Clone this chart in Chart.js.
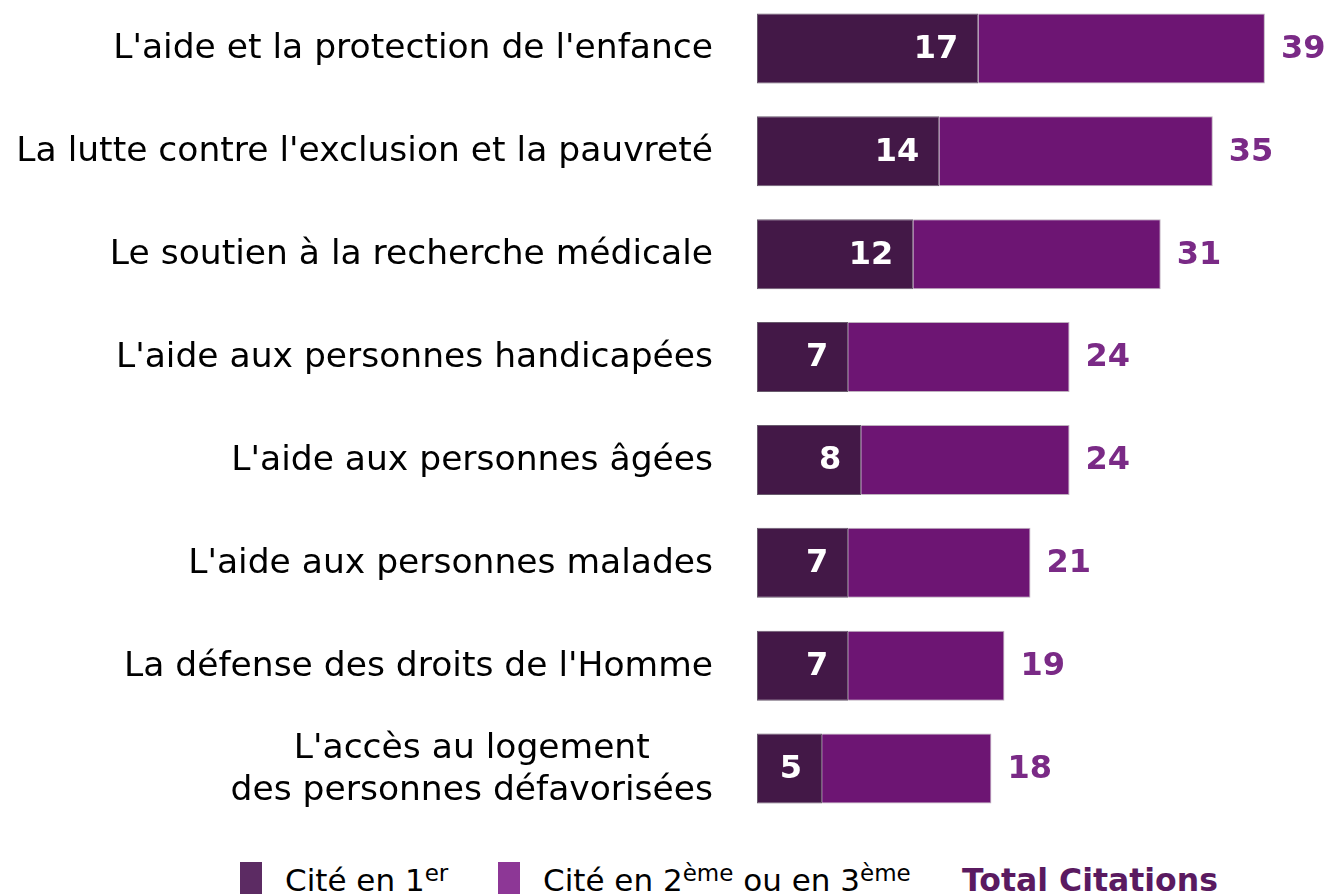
<!DOCTYPE html>
<html>
<head>
<meta charset="utf-8">
<script src="https://cdn.jsdelivr.net/npm/chart.js@4.4.1/dist/chart.umd.min.js"></script>
<style>
  html, body { margin:0; padding:0; background:#fff; width:1330px; height:894px; overflow:hidden; position:relative; }
  #wrap { position:absolute; left:0; top:-3px; width:1330px; height:823px; }
  .leg { position:absolute; font-family:"DejaVu Sans",Verdana,sans-serif; font-size:31px; color:#000; white-space:nowrap; line-height:1; }
  .leg sup { font-size:23px; vertical-align:0; position:relative; top:-10px; }
  .sq { position:absolute; width:22px; height:32px; }
</style>
</head>
<body>
<div id="wrap"><canvas id="c"></canvas></div>
<div class="sq" style="left:240px; top:862px; background:#5c2b63;"></div>
<div class="leg" style="left:285px; top:865px;">Cité en 1<sup>er</sup></div>
<div class="sq" style="left:498px; top:862px; background:#8d3796;"></div>
<div class="leg" style="left:543px; top:865px;">Cité en 2<sup>ème</sup> ou en 3<sup>ème</sup></div>
<div class="leg" style="left:962px; top:865px; font-size:31.5px; font-weight:bold; color:#5a1a60;">Total Citations</div>
<script>
const categories = [
  "L'aide et la protection de l'enfance",
  "La lutte contre l'exclusion et la pauvreté",
  "Le soutien à la recherche médicale",
  "L'aide aux personnes handicapées",
  "L'aide aux personnes âgées",
  "L'aide aux personnes malades",
  "La défense des droits de l'Homme",
  ["L'accès au logement", "des personnes défavorisées"]
];
const citeFirst = [17, 14, 12, 7, 8, 7, 7, 5];
const citeSecondThird = [22, 21, 19, 17, 16, 14, 12, 13];
const totalCitations = [39, 35, 31, 24, 24, 21, 19, 18];

const labelsPlugin = {
  id: 'valueLabels',
  afterDatasetsDraw(chart) {
    const ctx = chart.ctx;
    ctx.save();
    const ys = chart.scales.y;
    ctx.font = '34.5px "DejaVu Sans", Verdana, sans-serif';
    ctx.fillStyle = '#000';
    ctx.textBaseline = 'middle';
    const xr = chart.chartArea.left - 44;
    chart.data.labels.forEach((lab, i) => {
      const py = ys.getPixelForValue(i) + 1;
      if (Array.isArray(lab)) {
        const maxw = Math.max(...lab.map(t => ctx.measureText(t).width));
        const cx = xr - maxw / 2;
        ctx.textAlign = 'center';
        lab.forEach((t, k) => ctx.fillText(t, cx, py + (k - (lab.length - 1) / 2) * 42));
      } else {
        ctx.textAlign = 'right';
        ctx.fillText(lab, xr, py);
      }
    });
    ctx.font = 'bold 32px "DejaVu Sans", Verdana, sans-serif';
    const m0 = chart.getDatasetMeta(0);
    const m1 = chart.getDatasetMeta(1);
    m0.data.forEach((bar, i) => {
      ctx.fillStyle = '#ffffff';
      ctx.textAlign = 'right';
      ctx.fillText(String(citeFirst[i]), bar.x - 20, bar.y + 1);
    });
    m1.data.forEach((bar, i) => {
      ctx.fillStyle = '#7a2a86';
      ctx.textAlign = 'left';
      ctx.fillText(String(totalCitations[i]), bar.x + 16, bar.y + 1);
    });
    ctx.restore();
  }
};

new Chart(document.getElementById('c'), {
  type: 'bar',
  data: {
    labels: categories,
    datasets: [
      { label: 'Cité en 1er', data: citeFirst, backgroundColor: '#431847', borderColor: 'rgba(40,20,45,0.7)', borderWidth: 1, borderSkipped: false },
      { label: 'Cité en 2ème ou en 3ème', data: citeSecondThird, backgroundColor: '#6d1573', borderColor: 'rgba(110,80,110,0.45)', borderWidth: 1, borderSkipped: 'start' }
    ]
  },
  options: {
    indexAxis: 'y',
    responsive: true,
    maintainAspectRatio: false,
    animation: false,
    layout: { padding: 0 },
    plugins: { legend: { display: false }, tooltip: { enabled: false } },
    datasets: { bar: { categoryPercentage: 1, barPercentage: 0.68 } },
    scales: {
      x: {
        stacked: true, min: 0, max: 44, display: false
      },
      y: {
        stacked: true,
        grid: { display: false, drawTicks: false },
        border: { display: false },
        afterFit(scale) { scale.width = 757; scale.paddingTop = 0; scale.paddingBottom = 0; },
        ticks: { display: false }
      }
    }
  },
  plugins: [labelsPlugin]
});
</script>
</body>
</html>
